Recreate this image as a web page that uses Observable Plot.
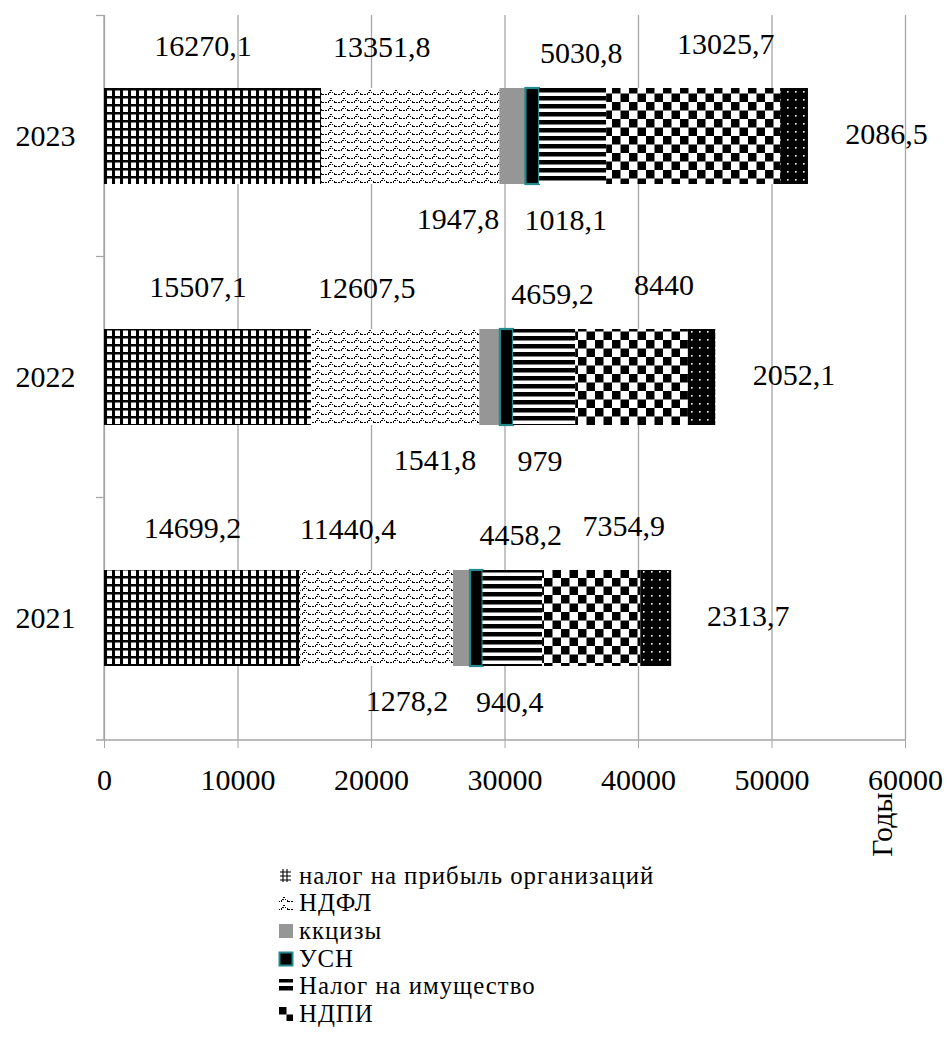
<!DOCTYPE html>
<html><head><meta charset="utf-8">
<script src="https://cdn.jsdelivr.net/npm/d3@7"></script>
<script src="https://cdn.jsdelivr.net/npm/@observablehq/plot@0.6"></script>
<style>
body{margin:0;background:#fff;font-family:"Liberation Serif","Tinos","Times New Roman","DejaVu Serif",serif;}
svg text{font-family:"Liberation Serif","Tinos","Times New Roman","DejaVu Serif",serif;}
#legend{margin-left:278px;font-size:24.8px;letter-spacing:1px;color:#000;}
.item{display:flex;align-items:center;height:27.6px;white-space:nowrap;}
.item svg{margin-right:5px;flex:none;}
</style></head><body>
<svg width="0" height="0" style="position:absolute">
<defs>
<pattern id="pGrid" patternUnits="userSpaceOnUse" width="8" height="8">
<rect width="8" height="8" fill="#fff"/><rect width="3" height="8" fill="#000"/><rect width="8" height="2.5" fill="#000"/>
</pattern>
<pattern id="pWave" patternUnits="userSpaceOnUse" width="13" height="8">
<rect width="13" height="8" fill="#fff"/>
<path d="M0 6.5H3V4.5H5V2.5H7V4.5H9V6.5H13" fill="none" stroke="#000" stroke-width="1" stroke-dasharray="2 1" shape-rendering="crispEdges"/>
</pattern>
<pattern id="pStripe" patternUnits="userSpaceOnUse" width="8" height="8">
<rect width="8" height="8" fill="#fff"/><rect width="8" height="4.5" fill="#000"/>
</pattern>
<pattern id="pCheck" patternUnits="userSpaceOnUse" width="17" height="17">
<rect width="17" height="17" fill="#fff"/><rect width="8.5" height="8.5" fill="#000"/><rect x="8.5" y="8.5" width="8.5" height="8.5" fill="#000"/>
</pattern>
<pattern id="pDots" patternUnits="userSpaceOnUse" width="8" height="8">
<rect width="8" height="8" fill="#000"/><rect x="3" y="3" width="1.6" height="1.6" fill="#fff"/>
</pattern>
</defs>
</svg>
<div id="chart"></div>
<div id="legend"></div>
<script>
// ---- data ----
const years = ["2023", "2022", "2021"];
const series = ["налог на прибыль организаций", "НДФЛ", "ккцизы", "УСН", "Налог на имущество", "НДПИ", "прочие"];
const legendSeries = ["налог на прибыль организаций", "НДФЛ", "ккцизы", "УСН", "Налог на имущество", "НДПИ"];
const values2023 = [16270.1, 13351.8, 1947.8, 1018.1, 5030.8, 13025.7, 2086.5];
const values2022 = [15507.1, 12607.5, 1541.8, 979, 4659.2, 8440, 2052.1];
const values2021 = [14699.2, 11440.4, 1278.2, 940.4, 4458.2, 7354.9, 2313.7];
const xTicks = [0, 10000, 20000, 30000, 40000, 50000, 60000];
const axisTitle = "Годы";

// ---- build table ----
const byYear = {"2023": values2023, "2022": values2022, "2021": values2021};
const rows = [];
for (const yr of years) series.forEach((s, i) => rows.push({year: yr, series: s, value: byYear[yr][i]}));

// ---- styles ----
const SERIF = "'Liberation Serif', Tinos, 'Times New Roman', 'DejaVu Serif', serif";
const fills = ["url(#pGrid)", "url(#pWave)", "#969696", "#000000", "url(#pStripe)", "url(#pCheck)", "url(#pDots)"];
const fillOf = s => fills[series.indexOf(s)];
const teal = "#23898b";
const labelDx = [-10, -29, -55, 33, 8, 32, 92];
const labelDy = [-90, -89, 83, 84, -83, -92, -2];
const fmt = v => String(v).replace(".", ",");
const FONT = 30;

function axesMark(index, scales, values, dims) {
  const x = scales.x, y = scales.y;
  const g = d3.create("svg:g").attr("stroke", "#a6a6a6").attr("stroke-width", 1.3);
  const top = dims.marginTop, bottom = dims.height - dims.marginBottom;
  const x0 = x(xTicks[0]), x1 = x(xTicks[xTicks.length - 1]);
  const step = y.step(), bw = y.bandwidth();
  g.append("line").attr("x1", x0).attr("x2", x0).attr("y1", top).attr("y2", bottom);
  g.append("line").attr("x1", x0 - 8).attr("x2", x1).attr("y1", bottom).attr("y2", bottom);
  for (const yr of years) {
    const yb = y(yr) - (step - bw) / 2;
    g.append("line").attr("x1", x0 - 8).attr("x2", x0).attr("y1", yb).attr("y2", yb);
  }
  return g.node();
}

const labelMarks = series.map((s, i) => Plot.text(rows, Plot.stackX({
  x: "value", y: "year", z: "series", order: series,
  text: d => d.series === s ? fmt(d.value) : null,
  dx: labelDx[i], dy: labelDy[i], fontSize: FONT, fill: "#000"
})));

const chart = Plot.plot({
  width: 947, height: 862,
  marginLeft: 104, marginRight: 42, marginTop: 15, marginBottom: 122,
  style: {fontFamily: SERIF, fontSize: FONT + "px", color: "#000", background: "#fff"},
  x: {domain: [xTicks[0], xTicks[xTicks.length - 1]], label: null},
  y: {domain: years, paddingInner: 0.6, paddingOuter: 0.3, label: null},
  color: {type: "identity"},
  marks: [
    Plot.gridX(xTicks, {stroke: "#a6a6a6", strokeOpacity: 1, strokeWidth: 1.3}),
    axesMark,
    Plot.barX(rows, Plot.stackX({
      x: "value", y: "year", z: "series", order: series,
      fill: d => fillOf(d.series),
      stroke: d => d.series === "УСН" ? teal : "none",
      strokeWidth: 2.2
    })),
    ...labelMarks,
    Plot.axisX(xTicks, {tickSize: 8, tickPadding: 20, stroke: "#a6a6a6", fill: "#000", fontSize: FONT, label: null, tickFormat: d => String(d)}),
    Plot.axisY({tickSize: 0, tickPadding: 29, fontSize: FONT, fill: "#000", label: null}),
    Plot.text([axisTitle], {frameAnchor: "bottom-right", textAnchor: "middle", lineAnchor: "middle", dx: -23, dy: 84, rotate: -90, fontSize: FONT, fill: "#000"})
  ]
});
document.getElementById("chart").appendChild(chart);

// ---- legend ----
const legend = d3.select("#legend");
legendSeries.forEach(s => {
  const item = legend.append("div").attr("class", "item");
  const sv = item.append("svg").attr("width", 16).attr("height", 16);
  const f = fillOf(s);
  if (s === "УСН") {
    sv.append("rect").attr("x", 1.5).attr("y", 1.5).attr("width", 13).attr("height", 13).attr("fill", f).attr("stroke", teal).attr("stroke-width", 2);
  } else if (s === "налог на прибыль организаций") {
    sv.append("rect").attr("x", 2).attr("y", 1).attr("width", 11).attr("height", 13).attr("fill", "#fff");
    sv.append("path").attr("d", "M5 1V14M9 1V14M2 4H13M2 8H13M2 12H13").attr("stroke", "#000").attr("stroke-width", 1.1).attr("fill", "none");
  } else {
    sv.append("rect").attr("x", 1).attr("y", 1).attr("width", 14).attr("height", 14).attr("fill", f);
  }
  item.append("span").text(s);
});
</script>
</body></html>
